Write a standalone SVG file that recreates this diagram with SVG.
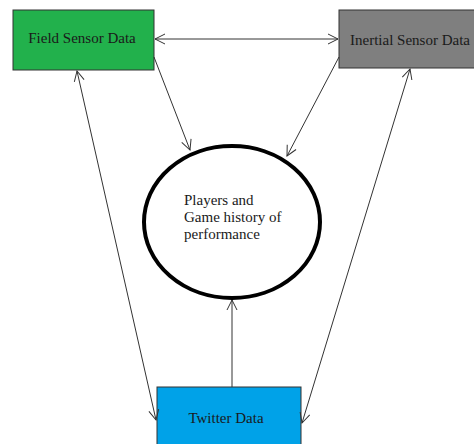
<svg xmlns="http://www.w3.org/2000/svg" width="474" height="444" viewBox="0 0 474 444">
<defs>
<style>
.box{stroke:#333;stroke-width:1}
.lbl{font-family:"Liberation Serif","Times New Roman",serif;font-size:15px;fill:#1a1a1a}
.conn line{stroke:#333;stroke-width:1;fill:none}
</style>
<marker id="ah" viewBox="0 0 12 12" refX="11" refY="6" markerWidth="12" markerHeight="12" markerUnits="userSpaceOnUse" orient="auto-start-reverse">
<path d="M1,1 L11,6 L1,11" fill="none" stroke="#333" stroke-width="1"/>
</marker>
</defs>
<rect width="474" height="444" fill="#fff"/>
<g id="field">
<rect class="box" x="13" y="10" width="141" height="60" fill="#22b14c"/>
<text class="lbl" x="82" y="43" text-anchor="middle">Field Sensor Data</text>
</g>
<g id="inertial">
<rect class="box" x="339" y="10" width="140" height="58" fill="#7f7f7f"/>
<text class="lbl" x="350" y="45">Inertial Sensor Data</text>
</g>
<g id="history">
<ellipse cx="232" cy="222" rx="88" ry="76" fill="#fff" stroke="#000" stroke-width="4"/>
<text class="lbl"><tspan x="184" y="205">Players and</tspan><tspan x="184" y="222">Game history of</tspan><tspan x="184" y="239">performance</tspan></text>
</g>
<g id="twitter">
<rect class="box" x="157" y="387" width="144" height="62" fill="#00a2e8"/>
<text class="lbl" x="226" y="423" text-anchor="middle">Twitter Data</text>
</g>
<g class="conn">
<line x1="155" y1="39" x2="338" y2="39" marker-start="url(#ah)" marker-end="url(#ah)"/>
<line x1="154" y1="57" x2="190" y2="150" marker-end="url(#ah)"/>
<line x1="339" y1="57" x2="287" y2="156" marker-end="url(#ah)"/>
<line x1="77" y1="71" x2="156" y2="420" marker-start="url(#ah)" marker-end="url(#ah)"/>
<line x1="410" y1="69" x2="302" y2="423" marker-start="url(#ah)" marker-end="url(#ah)"/>
<line x1="232" y1="387" x2="232" y2="300" marker-end="url(#ah)"/>
</g>
</svg>
